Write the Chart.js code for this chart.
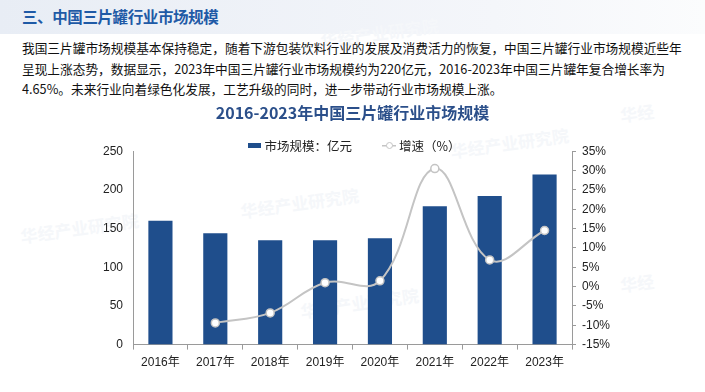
<!DOCTYPE html>
<html>
<head>
<meta charset="utf-8">
<script src="https://cdn.jsdelivr.net/npm/chart.js@4"></script>
<style>
  body{margin:0;width:705px;height:392px;overflow:hidden;background:#fff;font-family:"Noto Sans CJK SC",sans-serif;position:relative}
  .head{position:absolute;left:0;top:0;width:705px;height:34px;background:linear-gradient(to right,#e8edf5,#f4f6fa 70%,#fbfcfd)}
  .head span{position:absolute;left:22px;top:5px;font-size:15.5px;font-weight:bold;color:#1f5aa6;letter-spacing:-0.4px}
  .para{position:absolute;left:22px;top:38px;width:680px;font-size:12.7px;line-height:20.7px;color:#111;white-space:nowrap}
  .wm{position:absolute;color:#f5f7fa;font-size:17px;font-weight:bold;transform:rotate(-8deg);white-space:nowrap}
  #box{position:absolute;left:0;top:96px;width:705px;height:296px}
  #legend{position:absolute;top:136px;left:2px;width:705px;display:flex;justify-content:center;font-size:12.5px;color:#222;font-family:"Noto Sans CJK SC",sans-serif}
  #legend div{display:flex;align-items:center;margin:0 15px}
</style>
</head>
<body>
<div class="head"><span>三、中国三片罐行业市场规模</span></div>
<div class="wm" style="left:320px;top:20px">华经产业研究院</div>
<div class="wm" style="left:240px;top:190px">华经产业研究院</div>
<div class="wm" style="left:450px;top:130px">华经产业研究院</div>
<div class="wm" style="left:20px;top:215px">华经产业研究院</div>
<div class="wm" style="left:300px;top:290px">华经产业研究院</div>
<div class="wm" style="left:620px;top:100px">华经</div>
<div class="wm" style="left:620px;top:270px">华经</div>
<div class="para">我国三片罐市场规模基本保持稳定，随着下游包装饮料行业的发展及消费活力的恢复，中国三片罐行业市场规模近些年<br>呈现上涨态势，数据显示，2023年中国三片罐行业市场规模约为220亿元，2016-2023年中国三片罐年复合增长率为<br>4.65%。未来行业向着绿色化发展，工艺升级的同时，进一步带动行业市场规模上涨。</div>
<div id="box"><canvas id="chart"></canvas></div>
<div id="legend"></div>
<script>
    // data
    const years = ['2016年', '2017年', '2018年', '2019年', '2020年', '2021年', '2022年', '2023年']
    const marketSize = [160, 144, 135, 135, 137.5, 179, 192, 220]
    const growth = [null, -9.4, -6.8, 1.0, 1.5, 30.5, 6.9, 14.5]
    const leftTicks = [0, 50, 100, 150, 200, 250]
    const rightTicks = [-15, -10, -5, 0, 5, 10, 15, 20, 25, 30, 35]

    const blue = '#1f4e8c'
    const grey = '#c4c4c4'
    const axisColor = '#9a9a9a'
    const font = { family: 'Liberation Sans, Noto Sans CJK SC', size: 12 }

    // html legend built from the datasets
    const htmlLegend = {
        id: 'htmlLegend',
        afterUpdate(chart) {
            const box = document.getElementById('legend')
            box.innerHTML = ''
            chart.data.datasets.forEach(ds => {
                const item = document.createElement('div')
                const mark = document.createElement('span')
                if (ds.type === 'line') {
                    mark.style.cssText = 'display:inline-block;width:14px;height:9px;margin-right:3px;background:linear-gradient(' + grey + ',' + grey + ') center/14px 1.5px no-repeat;position:relative'
                    const dot = document.createElement('span')
                    dot.style.cssText = 'position:absolute;left:3.5px;top:1px;width:5px;height:5px;border-radius:50%;background:#fff;border:1px solid ' + grey
                    mark.appendChild(dot)
                } else {
                    mark.style.cssText = 'display:inline-block;width:13px;height:5px;margin-right:3px;background:' + ds.backgroundColor
                }
                item.appendChild(mark)
                item.appendChild(document.createTextNode(ds.label))
                box.appendChild(item)
            })
        }
    }

    const ctx = document.getElementById('chart').getContext('2d')
    new Chart(ctx, {
        data: {
            labels: years,
            datasets: [{
                type: 'bar',
                label: '市场规模：亿元',
                data: marketSize,
                yAxisID: 'y',
                backgroundColor: blue,
                categoryPercentage: 1,
                barPercentage: 0.44,
                order: 1
            }, {
                type: 'line',
                label: '增速（%）',
                data: growth,
                yAxisID: 'y1',
                borderColor: grey,
                borderWidth: 2,
                tension: 0.4,
                pointRadius: 4,
                pointBackgroundColor: '#fff',
                pointBorderColor: grey,
                pointBorderWidth: 1.5,
                order: 0
            }]
        },
        options: {
            responsive: true,
            maintainAspectRatio: false,
            animation: false,
            layout: { padding: { left: 0, right: 0, top: 0, bottom: 16 } },
            plugins: {
                legend: { display: false },
                tooltip: { enabled: false },
                title: {
                    display: true,
                    text: '2016-2023年中国三片罐行业市场规模',
                    color: '#2b4f8a',
                    font: { family: 'Noto Sans CJK SC', size: 16, weight: 'bold' },
                    padding: { top: 7, bottom: 29 }
                }
            },
            scales: {
                x: {
                    grid: { display: true, drawOnChartArea: false, drawTicks: true, tickLength: 5, color: axisColor, offset: true },
                    border: { color: axisColor },
                    ticks: { color: '#222', font: font, padding: 6, maxRotation: 0 }
                },
                y: {
                    position: 'left',
                    min: 0,
                    max: 250,
                    afterBuildTicks: s => { s.ticks = leftTicks.map(v => ({ value: v })) },
                    afterFit: s => { s.width = 133 },
                    grid: { display: false, drawTicks: false },
                    border: { display: true, color: axisColor },
                    ticks: { color: '#222', font: font, padding: 10 }
                },
                y1: {
                    position: 'right',
                    min: -15,
                    max: 35,
                    afterBuildTicks: s => { s.ticks = rightTicks.map(v => ({ value: v })) },
                    afterFit: s => { s.width = 133 },
                    grid: { drawOnChartArea: false, drawTicks: true, tickLength: 4, color: axisColor },
                    border: { display: true, color: axisColor },
                    ticks: { color: '#222', font: font, padding: 6, callback: v => v + '%' }
                }
            }
        },
        plugins: [htmlLegend]
    })
</script>
</body>
</html>
